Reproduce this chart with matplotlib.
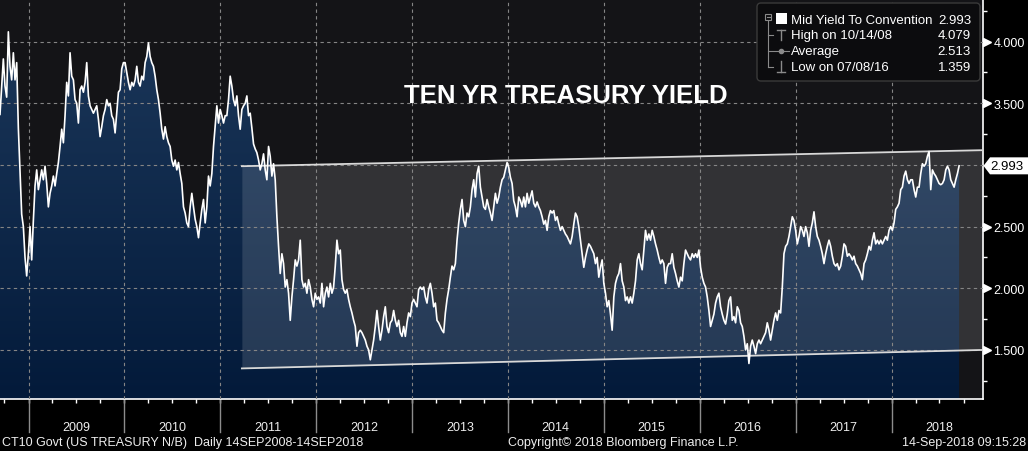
import numpy as np
import pandas as pd
import matplotlib
matplotlib.use("Agg")
import matplotlib.pyplot as plt
import matplotlib.dates as mdates
import matplotlib.transforms as mtransforms
from matplotlib.colors import LinearSegmentedColormap
from matplotlib.patches import Polygon, FancyBboxPatch, Rectangle
from matplotlib.ticker import FixedLocator, FuncFormatter

plt.rcParams['font.family'] = ['Liberation Sans', 'DejaVu Sans']

# 10y yield at even steps, Sep 2008 -> Sep 2018
yld_2008_2011 = [
    3.41, 3.64, 3.86, 3.64, 3.55, 4.08, 3.80, 3.69, 3.91, 3.69,
    3.83, 3.30, 2.95, 2.60, 2.50, 2.25, 2.10, 2.28, 2.50, 2.23,
    2.55, 2.83, 2.96, 2.80, 2.88, 2.96, 2.88, 2.99, 2.85, 2.66,
    2.77, 2.83, 2.91, 2.83, 2.93, 3.02, 3.15, 3.29, 3.18, 3.40,
    3.67, 3.56, 3.91, 3.72, 3.69, 3.53, 3.50, 3.34, 3.61, 3.64,
    3.59, 3.67, 3.83, 3.56, 3.48, 3.45, 3.42, 3.45, 3.48, 3.37,
    3.23, 3.31, 3.40, 3.45, 3.53, 3.48, 3.50, 3.40, 3.37, 3.26,
    3.42, 3.59, 3.61, 3.78, 3.83, 3.83, 3.75, 3.67, 3.61, 3.67,
    3.64, 3.69, 3.80, 3.67, 3.64, 3.72, 3.69, 3.83, 3.88, 3.99,
    3.88, 3.83, 3.80, 3.72, 3.61, 3.53, 3.42, 3.29, 3.21, 3.31,
    3.23, 3.18, 3.15, 3.04, 2.99, 3.04, 2.96, 3.02, 2.93, 2.85,
    2.66, 2.61, 2.53, 2.50, 2.66, 2.77, 2.66, 2.56, 2.50, 2.41,
    2.53, 2.64, 2.72, 2.53, 2.66, 2.91, 2.83, 2.93, 3.15, 3.31,
    3.48, 3.34, 3.45, 3.40, 3.34, 3.40, 3.40, 3.53, 3.72, 3.64,
    3.53, 3.48, 3.56, 3.40, 3.29, 3.45, 3.48, 3.50, 3.56, 3.40,
    3.42,
]
yld_2011_2013 = [
    3.30, 3.17, 3.13, 3.10, 3.04, 2.96, 3.01, 3.09, 2.96, 2.88,
    3.15, 3.07, 2.91, 3.01, 2.88, 2.58, 2.34, 2.12, 2.28, 2.20,
    2.01, 2.07, 1.96, 1.74, 1.93, 2.07, 2.23, 2.18, 2.23, 2.39,
    2.07, 2.01, 2.04, 1.96, 2.07, 2.01, 1.91, 1.85, 1.96, 1.91,
    1.93, 1.88, 2.04, 1.85, 1.96, 2.01, 1.93, 2.04, 1.96, 2.01,
    2.18, 2.39, 2.28, 2.31, 2.07, 1.99, 1.96, 1.99, 1.91, 1.85,
    1.80, 1.74, 1.69, 1.53, 1.64, 1.66, 1.64, 1.61, 1.58, 1.53,
    1.50, 1.42, 1.50, 1.58, 1.69, 1.82, 1.69, 1.58, 1.66, 1.77,
    1.85, 1.69, 1.64, 1.72, 1.74, 1.82, 1.74, 1.69, 1.74, 1.64,
    1.61, 1.69, 1.61, 1.72, 1.80, 1.77, 1.88, 1.91, 1.88, 1.85,
    1.99, 2.01, 1.99, 2.01, 1.93, 1.88, 1.99, 2.04, 1.96, 1.85,
    1.88, 1.74, 1.72, 1.69, 1.66, 1.64, 1.80, 1.91, 1.99, 2.09,
    2.18, 2.15, 2.20, 2.39, 2.53, 2.64, 2.72, 2.55, 2.50, 2.61,
    2.58, 2.66, 2.80, 2.88, 2.74, 2.93, 2.99, 2.82, 2.74, 2.66,
    2.64, 2.72, 2.66, 2.61,
]
yld_2013_2016 = [
    2.55, 2.66, 2.77, 2.69, 2.74, 2.82, 2.88, 2.90, 2.96, 3.02,
    2.98, 2.90, 2.85, 2.71, 2.66, 2.58, 2.74, 2.71, 2.66, 2.74,
    2.66, 2.77, 2.69, 2.74, 2.79, 2.69, 2.66, 2.70, 2.66, 2.63,
    2.58, 2.52, 2.55, 2.47, 2.58, 2.63, 2.61, 2.63, 2.55, 2.58,
    2.52, 2.47, 2.50, 2.47, 2.44, 2.42, 2.39, 2.36, 2.42, 2.52,
    2.61, 2.58, 2.50, 2.39, 2.28, 2.17, 2.25, 2.31, 2.36, 2.34,
    2.31, 2.28, 2.20, 2.25, 2.09, 2.17, 2.23, 2.04, 1.96, 1.85,
    1.90, 1.79, 1.66, 1.93, 2.04, 2.09, 2.12, 2.20, 2.06, 2.01,
    1.90, 1.93, 1.88, 1.93, 1.88, 1.96, 2.06, 2.23, 2.28, 2.20,
    2.15, 2.31, 2.47, 2.39, 2.44, 2.39, 2.47, 2.42, 2.36, 2.31,
    2.25, 2.20, 2.23, 2.20, 2.04, 2.17, 2.20, 2.20, 2.28, 2.17,
    2.12, 2.06, 2.01, 2.09, 2.06, 2.20, 2.31, 2.28, 2.25, 2.23,
    2.28, 2.25, 2.28, 2.25, 2.31, 2.17, 2.09, 2.04, 2.01, 1.93,
    1.82, 1.69, 1.74, 1.79, 1.88, 1.93, 1.96, 1.85, 1.79, 1.74,
    1.71, 1.79, 1.90, 1.93,
]
yld_2016_2018 = [
    1.74, 1.77, 1.72, 1.85, 1.82, 1.72, 1.69, 1.61, 1.50, 1.55,
    1.39, 1.53, 1.58, 1.53, 1.47, 1.55, 1.58, 1.55, 1.58, 1.61,
    1.64, 1.72, 1.66, 1.58, 1.66, 1.74, 1.80, 1.74, 1.82, 1.80,
    2.01, 2.28, 2.34, 2.36, 2.42, 2.50, 2.58, 2.55, 2.47, 2.36,
    2.42, 2.50, 2.47, 2.42, 2.50, 2.45, 2.34, 2.47, 2.53, 2.62,
    2.50, 2.42, 2.39, 2.34, 2.28, 2.20, 2.28, 2.34, 2.39, 2.34,
    2.26, 2.20, 2.18, 2.20, 2.15, 2.18, 2.26, 2.36, 2.34, 2.26,
    2.28, 2.26, 2.23, 2.26, 2.20, 2.18, 2.15, 2.12, 2.07, 2.20,
    2.23, 2.28, 2.34, 2.31, 2.39, 2.45, 2.36, 2.39, 2.36, 2.39,
    2.36, 2.39, 2.42, 2.39, 2.47, 2.50, 2.47, 2.53, 2.64, 2.66,
    2.69, 2.80, 2.82, 2.91, 2.95, 2.88, 2.85, 2.88, 2.88, 2.80,
    2.74, 2.82, 2.82, 2.93, 3.01, 2.99, 3.01, 3.07, 3.11, 2.80,
    2.96, 2.93, 2.91, 2.88, 2.85, 2.84, 2.85, 2.88, 2.96, 2.99,
    2.96, 2.88, 2.85, 2.82, 2.88, 2.93, 2.993,
]
yld = np.array(yld_2008_2011 + yld_2011_2013 + yld_2013_2016 + yld_2016_2018)
dates = pd.date_range('2008-09-14', '2018-09-14', periods=len(yld))

# trend channel drawn on the chart
chan_dates = pd.to_datetime(['2011-03-24', '2018-12-14'])
chan_low = [1.35, 1.50]
chan_high = [2.99, 3.12]

# legend box rows
leg_names = ['Mid Yield To Convention', 'High on 10/14/08', 'Average', 'Low on 07/08/16']
leg_values = ['2.993', '4.079', '2.513', '1.359']

y_major = [1.5, 2.0, 2.5, 3.0, 3.5, 4.0]
y_minor = [1.25, 1.75, 2.25, 2.75, 3.25, 3.75, 4.25]

W, H = 1028, 452
x_min, x_max = pd.Timestamp('2008-09-14'), pd.Timestamp('2018-12-14')
y_min, y_max = 1.102, 4.346

fig = plt.figure(figsize=(W / 100, H / 100), dpi=100, facecolor='black')
ax = fig.add_axes([0, 52 / H, 983 / W, 400 / H])
ax.set_facecolor('#141417')

# gradient area under the curve
poly = ax.fill_between(dates, yld, y_min, color='none', lw=0)
cmap = LinearSegmentedColormap.from_list('blu', ['#031a3a', '#1d395c'])
grad = np.linspace(1, 0, 256).reshape(-1, 1)
im = ax.imshow(grad, extent=[mdates.date2num(x_min), mdates.date2num(x_max), y_min, y_max],
               aspect='auto', cmap=cmap, vmin=0, vmax=1, origin='upper', zorder=1)
im.set_clip_path(poly.get_paths()[0], transform=ax.transData)

# channel
ax.fill_between(chan_dates, chan_low, chan_high, color='white', alpha=0.13, lw=0, zorder=2)
ax.plot(chan_dates, chan_high, color='#d8d8d8', lw=1.3, zorder=4)
ax.plot(chan_dates, chan_low, color='#d8d8d8', lw=1.3, zorder=4)

# dashed grid
for v in y_major:
    ax.axhline(v, color='#858585', lw=0.8, ls=(0, (3, 3)), zorder=3)
for yr in range(2009, 2019):
    ax.axvline(pd.Timestamp(f'{yr}-01-01'), color='#858585', lw=0.8, ls=(0, (3, 3)), zorder=3)

ax.plot(dates, yld, color='white', lw=1.2, zorder=5)

ax.set_xlim(x_min, x_max)
ax.set_ylim(y_min, y_max)

for s in ['top', 'left']:
    ax.spines[s].set_visible(False)
for s in ['right', 'bottom']:
    ax.spines[s].set_color('white')
    ax.spines[s].set_linewidth(1.2)

# y axis on the right; the label under the last-value tag is hidden, as in the terminal
last = yld[-1]
shown = [v for v in y_major if abs(v - last) > 0.06]
ax.yaxis.tick_right()
ax.yaxis.set_major_locator(FixedLocator(shown))
ax.yaxis.set_minor_locator(FixedLocator(y_minor))
ax.yaxis.set_major_formatter(FuncFormatter(lambda v, p: f'{v:.3f}'))
ax.tick_params(axis='y', which='major', length=0, pad=7.5, labelsize=9, labelcolor='white')
ax.tick_params(axis='y', which='minor', length=3, width=1, color='white', direction='out')
tri = mtransforms.offset_copy(ax.get_yaxis_transform(), fig=fig, x=4, y=0, units='dots')
ax.plot([1.0] * len(shown), shown, ls='none', marker='>', ms=5.5, color='white',
        transform=tri, clip_on=False, zorder=6)

# x axis: years centred, quarter ticks
ax.xaxis.remove_overlapping_locs = False
ax.xaxis.set_major_locator(mdates.MonthLocator(bymonth=[7], bymonthday=1))
ax.xaxis.set_major_formatter(mdates.DateFormatter('%Y'))
ax.xaxis.set_minor_locator(mdates.MonthLocator(bymonth=[1, 4, 10], bymonthday=1))
ax.tick_params(axis='x', which='both', length=3, width=1, color='white', direction='out')
ax.tick_params(axis='x', which='major', pad=13, labelsize=9, labelcolor='#eeeeee')
for yr in range(2009, 2019):
    ax.plot([pd.Timestamp(f'{yr}-01-01')] * 2, [0, -33 / 400], color='#8c8c8c', lw=1,
            transform=ax.get_xaxis_transform(), clip_on=False)

# overlay in pixel coordinates for legend, title, last value tag
ov = fig.add_axes([0, 0, 1, 1])
ov.set_xlim(0, W)
ov.set_ylim(H, 0)
ov.axis('off')

ov.text(566, 96, 'TEN YR TREASURY YIELD', color='white', fontsize=18.5, fontweight='bold',
        ha='center', va='center')

last_px = ax.transData.transform((mdates.date2num(dates[-1]), last))
py = H - last_px[1]
ov.add_patch(Polygon([(983.5, py), (990, py - 8.5), (1028, py - 8.5), (1028, py + 8.5), (990, py + 8.5)],
                     closed=True, fc='white', ec='none', zorder=10))
ov.text(1007, py + 0.5, f'{last:.3f}', color='black', fontsize=9.5, ha='center', va='center', zorder=11)

# legend box
ov.add_patch(FancyBboxPatch((757, 4), 223, 78, boxstyle='round,pad=0,rounding_size=4',
                            fc='#0c0c0e', ec='#3a3a3a', lw=1, zorder=8))
rows = [20.5, 36.3, 52.3, 68.3]
g = '#8a8a8a'
ov.plot([768, 768], [21, rows[3]], color=g, lw=0.8, zorder=9)
ov.add_patch(Rectangle((765, 15), 6, 6, fc='#0c0c0e', ec=g, lw=0.8, zorder=9))
ov.plot([766.5, 769.5], [18, 18], color=g, lw=0.8, zorder=9)
for r in rows[1:]:
    ov.plot([768, 773], [r, r], color=g, lw=0.8, zorder=9)
ov.add_patch(Rectangle((776, 13.5), 11, 11.5, fc='white', ec='none', zorder=9))
ov.plot([777, 785], [30.5, 30.5], color=g, lw=1, zorder=9)
ov.plot([781, 781], [30.5, 41], color=g, lw=1, zorder=9)
ov.plot([774, 789], [rows[2], rows[2]], color=g, lw=0.8, zorder=9)
ov.plot([781], [rows[2]], marker='o', ms=3, color=g, zorder=9)
ov.plot([781, 781], [62, 72.5], color=g, lw=1, zorder=9)
ov.plot([777, 785], [72.5, 72.5], color=g, lw=1, zorder=9)
for r, name, val in zip(rows, leg_names, leg_values):
    ov.text(791, r, name, color='white', fontsize=9.5, ha='left', va='center', zorder=9)
    ov.text(971, r, val, color='white', fontsize=9.5, ha='right', va='center', zorder=9)

# footer
foot_y = 443.5
ov.text(2, foot_y, 'CT10 Govt (US TREASURY N/B)  Daily 14SEP2008-14SEP2018', color='#eeeeee',
        fontsize=9, ha='left', va='center')
ov.text(508, foot_y, 'Copyright\u00a9 2018 Bloomberg Finance L.P.', color='#eeeeee',
        fontsize=9, ha='left', va='center')
ov.text(1026, foot_y, '14-Sep-2018 09:15:28', color='#eeeeee', fontsize=9, ha='right', va='center')

fig.savefig('out.png', dpi=100, facecolor='black')
